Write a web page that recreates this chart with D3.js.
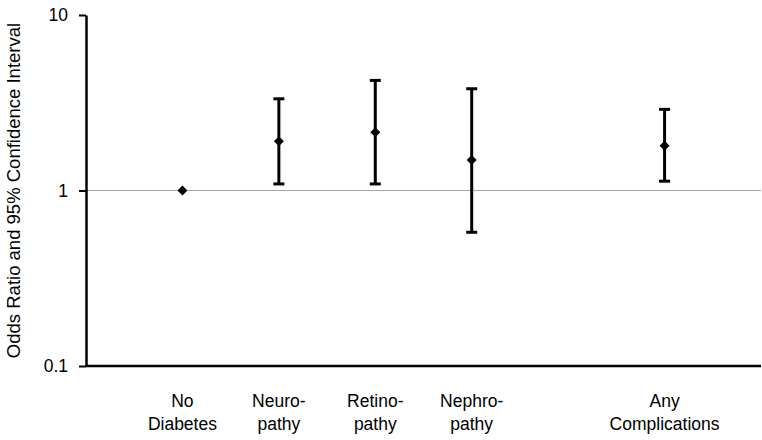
<!DOCTYPE html>
<html>
<head>
<meta charset="utf-8">
<script src="https://cdn.jsdelivr.net/npm/d3@7"></script>
<style>
  body { margin: 0; background: #fff; }
  svg { display: block; font-family: Arial, 'Liberation Sans', sans-serif; }
</style>
</head>
<body>
<div id="chart"></div>
<script>
const width = 762
const height = 440

// data
const categories = [['No', 'Diabetes'], ['Neuro-', 'pathy'], ['Retino-', 'pathy'], ['Nephro-', 'pathy'], ['Any', 'Complications']]
const slots = [1, 2, 3, 4, 6] // category slot on the axis, slot 5 left empty
const oddsRatio = [1, 1.91, 2.15, 1.49, 1.80]
const lowerCI = [null, 1.09, 1.09, 0.578, 1.13]
const upperCI = [null, 3.33, 4.24, 3.80, 2.90]
const yTicks = [0.1, 1, 10]

const margin = { top: 15, right: 1, bottom: 74, left: 86 }
const fontSize = 17.5

const x = d3.scaleLinear().domain([0, 7]).range([margin.left, width - margin.right])
const y = d3.scaleLog().domain([0.1, 10]).range([height - margin.bottom, margin.top])

const svg = d3.select('#chart').append('svg').attr('width', width).attr('height', height)

// reference line at OR = 1
svg.append('line')
  .attr('x1', x(0)).attr('x2', x(7))
  .attr('y1', y(1)).attr('y2', y(1))
  .attr('stroke', '#a6a6a6').attr('stroke-width', 1)

// y axis
const yAxis = svg.append('g')
  .attr('transform', `translate(${margin.left},0)`)
  .call(d3.axisLeft(y).tickValues(yTicks).tickFormat(d3.format('')).tickSize(7).tickPadding(11).tickSizeOuter(0))
yAxis.select('.domain').attr('stroke', '#000').attr('stroke-width', 2.5)
yAxis.selectAll('.tick line').attr('stroke', '#000').attr('stroke-width', 2)
yAxis.selectAll('.tick text').attr('font-size', fontSize).attr('fill', '#000')
  .attr('font-family', 'Arial, Liberation Sans, sans-serif')

// x axis line
svg.append('line')
  .attr('x1', x(0) - 1).attr('x2', x(7))
  .attr('y1', y(0.1)).attr('y2', y(0.1))
  .attr('stroke', '#000').attr('stroke-width', 2.5)

// category labels
const labels = svg.append('g').selectAll('text')
  .data(categories)
  .join('text')
  .attr('x', (d, i) => x(slots[i]))
  .attr('y', y(0.1) + 41)
  .attr('text-anchor', 'middle')
  .attr('font-size', fontSize)
  .attr('fill', '#000')
labels.selectAll('tspan')
  .data((d, i) => d.map(t => ({ t, i })))
  .join('tspan')
  .attr('x', d => x(slots[d.i]))
  .attr('dy', (d, j) => (j === 0 ? 0 : 23))
  .text(d => d.t)

// y title
svg.append('text')
  .attr('transform', `translate(20,${(y(0.1) + y(10)) / 2}) rotate(-90)`)
  .attr('text-anchor', 'middle')
  .attr('font-size', 18.5)
  .attr('fill', '#000')
  .text('Odds Ratio and 95% Confidence Interval')

// error bars
const bars = svg.append('g')
oddsRatio.forEach((v, i) => {
  if (lowerCI[i] == null) return
  const cx = x(slots[i])
  bars.append('line')
    .attr('x1', cx).attr('x2', cx)
    .attr('y1', y(lowerCI[i])).attr('y2', y(upperCI[i]))
    .attr('stroke', '#000').attr('stroke-width', 3)
  ;[lowerCI[i], upperCI[i]].forEach(c => {
    bars.append('line')
      .attr('x1', cx - 5.5).attr('x2', cx + 5.5)
      .attr('y1', y(c)).attr('y2', y(c))
      .attr('stroke', '#000').attr('stroke-width', 3)
  })
})

// point estimates
svg.append('g').selectAll('path')
  .data(oddsRatio)
  .join('path')
  .attr('transform', (d, i) => `translate(${x(slots[i])},${y(d)})`)
  .attr('d', 'M0,-5L5,0L0,5L-5,0Z')
  .attr('fill', '#000')
</script>
</body>
</html>
